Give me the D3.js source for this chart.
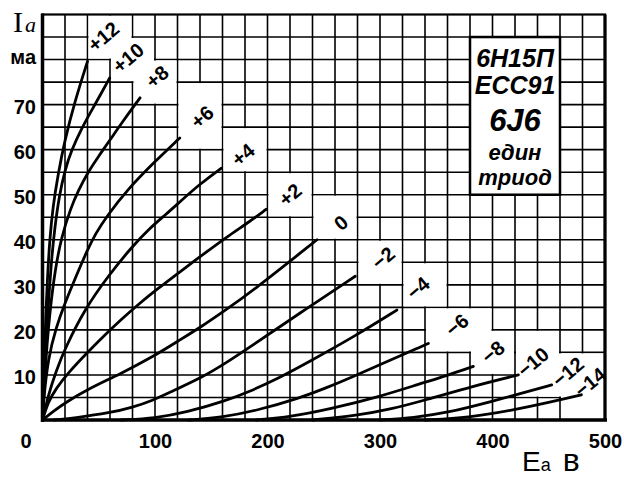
<!DOCTYPE html>
<html><head><meta charset="utf-8">
<script src="https://cdn.jsdelivr.net/npm/d3@7"></script>
<style>body{margin:0;background:#fff}</style>
</head><body>
<svg id="c" width="624" height="481"></svg>
<script>
// ---- data (Ea in V, Ia in mA) ----
const gridVoltages = ["+12","+10","+8","+6","+4","+2","0","−2","−4","−6","−8","−10","−12","−14"];
const eg_p12 = [[0,0],[1,8],[2,16],[3,24],[4.5,32],[6.4,40],[9.3,47.4],[13.8,54.5],[19.7,62],[28.6,70.6],[40,79.6]];
const eg_p10 = [[0,0],[1.5,8],[3,16],[5,25],[7.5,34],[10.5,42],[15,50],[20,55.5],[25.6,59.8],[35,64.8],[43.4,68.6],[52,72.4],[59.7,75.9]];
const eg_p8  = [[0,0],[2,9],[4,17],[7,25],[11,33],[16.7,40.5],[25,47],[32,51],[40.4,55],[50,58.6],[58.5,61.6],[72,66.5],[86.7,71.5]];
const eg_p6  = [[0,0],[1,4.5],[5,13.7],[12,20.5],[20,26],[30,32],[40,37.8],[47,41.3],[57,45.2],[76,51.3],[100,57.4],[122,62.6]];
const eg_p4  = [[0,0],[5.2,5.6],[12,10.8],[20,15.9],[38,24.8],[58.5,32],[79,38.3],[95,42.5],[110,45.7],[122,48.4],[140,52.4],[159,55.9]];
const eg_p2  = [[0,0],[5,4],[12,7],[23,10.5],[40,15],[58.5,19.6],[70,22.3],[85,25.6],[100,28.7],[127,33.8],[143,36.8],[167,41.2],[184,44],[199,46.8]];
const eg_0   = [[0,0],[10,2],[20,3.8],[40,6.8],[69,10.2],[98.5,14.1],[121,17.6],[143,21],[162,24.3],[184,28.1],[244,40]];
const eg_m2  = [[10,0],[30,0.5],[60,1.6],[80,2.8],[98.5,4.4],[112,6],[143,9.6],[162,12.5],[184,16.1],[229,23.8],[278,31.9]];
const eg_m4  = [[70,0],[100,0.4],[128,1.7],[162,4.2],[184,6.3],[210,9.3],[236,12.8],[279,18.8],[315,24.4]];
const eg_m6  = [[130,0],[160,0.6],[192,2.2],[229,4.9],[251,7],[275,9.5],[300,12.3],[336,16.2],[343,17]];
const eg_m8  = [[190,0],[220,0.7],[255,2.4],[300,5.2],[335,8],[360,9.9],[383,11.9]];
const eg_m10 = [[240,0],[280,1],[310,2.4],[340,4.4],[384,7.6],[423,10]];
const eg_m12 = [[300,0],[330,0.5],[360,1.6],[399,4.1],[430,6.2],[452.6,7.8]];
const eg_m14 = [[340,0],[378,0.5],[420,2.3],[450,3.9],[479,5.6]];
const curveSeries = [eg_p12,eg_p10,eg_p8,eg_p6,eg_p4,eg_p2,eg_0,eg_m2,eg_m4,eg_m6,eg_m8,eg_m10,eg_m12,eg_m14];
// label anchors (Ea, Ia)
const labelAt = [[54,85.1],[76,80.4],[101.8,76.2],[141.8,67.3],[178.2,58.9],[220,50],[265.3,43.8],[302.7,36],[333.8,29.3],[368.4,21.1],[400.4,15.1],[436,12.9],[467,10.7],[486.7,8.4]];
const xTicks = [0,100,200,300,400,500];
const yTicks = [10,20,30,40,50,60,70];
const tubeNames = ["6Н15П","ECC91","6J6","един","триод"];

// ---- layout ----
const svg = d3.select("#c");
const x = d3.scaleLinear([0,500],[42.5,605]);
const y = d3.scaleLinear([0,90],[420,14.5]);

// grid
const g = svg.append("g");
g.selectAll(".vg").data(d3.range(20,500,20)).join("line")
  .attr("x1",d=>x(d)).attr("x2",d=>x(d)).attr("y1",y(90)).attr("y2",y(0))
  .attr("stroke","#000").attr("stroke-width",1.6);
g.selectAll(".hg").data(d3.range(5,90,5)).join("line")
  .attr("y1",d=>y(d)).attr("y2",d=>y(d)).attr("x1",x(0)).attr("x2",x(500))
  .attr("stroke","#000").attr("stroke-width",1.6);

// white patches behind labels (grid-cell aligned)
const snapV = v=>Math.floor(v/20)*20, snapI = v=>Math.floor(v/5)*5;
labelAt.forEach(([v,i])=>{
  const v0 = Math.max(0,snapV(v-12)), v1 = Math.min(500,snapV(v+12)+20);
  const i0 = Math.max(0,snapI(i-3.5)), i1 = Math.min(90,snapI(i+3.5)+5);
  g.append("rect").attr("x",x(v0)+1).attr("y",y(i1)+1)
   .attr("width",x(v1)-x(v0)-2).attr("height",y(i0)-y(i1)-2).attr("fill","#fff");
});

// tube name box
g.append("rect").attr("x",x(380)).attr("y",y(85)).attr("width",x(460)-x(380)).attr("height",y(50)-y(85))
 .attr("fill","#fff").attr("stroke","#000").attr("stroke-width",2.5);
const nameY = [58,85,120,152,177], nameSize=[25,25,31,22,22];
tubeNames.forEach((t,k)=>{
  g.append("text").attr("x",(x(380)+x(460))/2).attr("y",nameY[k]).attr("dy","0.36em")
   .attr("text-anchor","middle").attr("font-family","Liberation Sans, Arial, sans-serif")
   .attr("font-weight","bold").attr("font-style","italic").attr("font-size",nameSize[k]).text(t);
});

// frame
svg.append("rect").attr("x",x(0)).attr("y",y(90)).attr("width",x(500)-x(0)).attr("height",y(0)-y(90))
  .attr("fill","none").attr("stroke","#000").attr("stroke-width",2.2);
svg.append("line").attr("x1",x(0)).attr("x2",x(0)).attr("y1",y(90)-1).attr("y2",y(0)+2).attr("stroke","#000").attr("stroke-width",3.5);
svg.append("line").attr("x1",x(0)-1).attr("x2",x(500)+2).attr("y1",y(0)).attr("y2",y(0)).attr("stroke","#000").attr("stroke-width",3.5);
svg.append("line").attr("x1",x(500)).attr("x2",x(500)).attr("y1",y(90)).attr("y2",y(0)).attr("stroke","#000").attr("stroke-width",3.2);

// curves
const line = d3.line().x(d=>x(d[0])).y(d=>y(d[1])).curve(d3.curveBasis);
svg.append("g").selectAll("path").data(curveSeries).join("path")
  .attr("d",line).attr("fill","none").attr("stroke","#000").attr("stroke-width",2.8)
  .attr("stroke-linecap","round");

// curve labels
svg.append("g").selectAll("text").data(gridVoltages).join("text")
  .attr("transform",(d,k)=>`translate(${x(labelAt[k][0])},${y(labelAt[k][1])}) rotate(-40)`)
  .attr("text-anchor","middle").attr("dy","0.36em")
  .attr("font-family","Liberation Sans, Arial, sans-serif").attr("font-weight","bold")
  .attr("font-size",20).text(d=>d);

// axes
const ax = svg.append("g").attr("transform",`translate(0,${y(0)})`)
  .call(d3.axisBottom(x).tickValues(xTicks).tickSize(0).tickPadding(14).tickFormat(d3.format("d")));
ax.select(".domain").remove();
ax.selectAll("text").attr("font-family","Liberation Sans, Arial, sans-serif").attr("font-weight","bold")
  .attr("font-size",20).attr("fill","#000").attr("dx",d=>d===0?-17:0);
const ay = svg.append("g").attr("transform",`translate(36,0)`)
  .call(d3.axisLeft(y).tickValues(yTicks).tickSize(0).tickPadding(0));
ay.select(".domain").remove();
ay.selectAll("text").attr("font-family","Liberation Sans, Arial, sans-serif").attr("font-weight","bold")
  .attr("font-size",20).attr("fill","#000").attr("dy","0.45em");

// unit labels
svg.append("text").attr("x",36).attr("y",y(80)).attr("dy","0.2em").attr("text-anchor","end")
  .attr("font-family","Liberation Sans, Arial, sans-serif").attr("font-weight","bold").attr("font-size",20).text("ма");
const ia = svg.append("text").attr("x",13).attr("y",32).attr("font-family","Liberation Serif, serif").attr("font-size",30);
ia.append("tspan").text("I");
ia.append("tspan").attr("font-size",22).attr("font-style","italic").attr("dx",2).attr("dy",0).text("а");
const ea = svg.append("text").attr("x",522).attr("y",471).attr("font-family","Liberation Sans, Arial, sans-serif").attr("font-size",28);
ea.append("tspan").text("E");
ea.append("tspan").attr("font-size",18).text("а");
ea.append("tspan").attr("dx",12).attr("font-size",32).text("в");
</script>
</body></html>
